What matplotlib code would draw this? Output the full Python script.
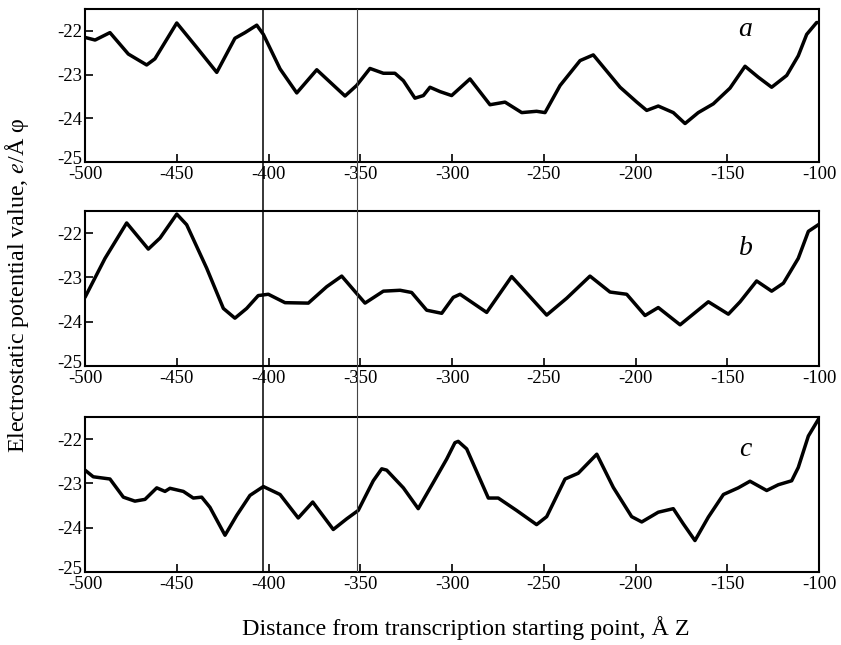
import matplotlib
matplotlib.use("Agg")
import matplotlib.pyplot as plt
from matplotlib.transforms import ScaledTranslation

plt.rcParams['font.family'] = ['Liberation Serif', 'DejaVu Serif']
plt.rcParams['mathtext.fontset'] = 'stix'
plt.rcParams['axes.unicode_minus'] = False

# --- data ---
x_a = [-500, -494.5, -486.4, -476.4, -466.4, -461.9, -450, -439.1, -428.2, -418.3,
       -412.8, -406.4, -402.8, -393.7, -384.6, -373.7, -358.3, -352, -344.7, -337.4,
       -331.1, -326.5, -320.2, -315.6, -312, -306.5, -300.2, -290.2, -279.3, -271.1,
       -262, -253.9, -249.3, -241.1, -230.2, -223, -208.4, -199.3, -193.9, -187.6,
       -179.4, -173, -165.8, -157.6, -148.5, -140.3, -133.1, -125.8, -117.6, -111.3,
       -106.7, -101.3, -100]
y_a = [-22.15, -22.21, -22.04, -22.53, -22.78, -22.64, -21.82, -22.38, -22.95, -22.17,
       -22.04, -21.87, -22.08, -22.87, -23.42, -22.89, -23.49, -23.25, -22.86, -22.97,
       -22.97, -23.14, -23.54, -23.48, -23.29, -23.39, -23.48, -23.10, -23.69, -23.63,
       -23.87, -23.84, -23.87, -23.25, -22.68, -22.55, -23.29, -23.63, -23.82, -23.72,
       -23.87, -24.12, -23.87, -23.67, -23.31, -22.81, -23.06, -23.29, -23.02, -22.57,
       -22.08, -21.81, -21.81]

x_b = [-500, -489.1, -477.3, -465.5, -459.1, -450, -444.6, -433.7, -424.6, -418.3,
       -411.9, -405.6, -400.1, -391, -378.3, -368.3, -360.1, -352, -347.4, -337.4,
       -328.3, -322, -313.8, -305.6, -299.3, -295.6, -281.1, -267.5, -248.4, -237.5,
       -224.8, -213.9, -204.8, -194.8, -187.6, -175.7, -160.3, -149.4, -143, -134,
       -125.8, -119.4, -111.3, -105.8, -100]
y_b = [-23.45, -22.57, -21.77, -22.36, -22.11, -21.57, -21.81, -22.79, -23.70, -23.92,
       -23.70, -23.41, -23.38, -23.57, -23.58, -23.21, -22.97, -23.36, -23.58, -23.31,
       -23.29, -23.34, -23.74, -23.81, -23.45, -23.38, -23.79, -22.98, -23.85, -23.47,
       -22.97, -23.33, -23.38, -23.86, -23.68, -24.07, -23.55, -23.83, -23.55, -23.08,
       -23.31, -23.13, -22.57, -21.96, -21.80]

x_c = [-500, -495.5, -486.4, -479.1, -472.8, -467.3, -460.9, -456.4, -453.7, -446.4,
       -441, -436.4, -431.9, -423.7, -417.3, -410.1, -402.8, -393.7, -383.8, -375.9,
       -364.7, -357.4, -351.1, -342.9, -338.3, -335.6, -326.5, -318.4, -310.2, -302.9,
       -298.4, -296.6, -292, -280.2, -274.8, -264.8, -253.9, -248.4, -238.4, -231.2,
       -221.1, -212.1, -202.1, -196.6, -187.6, -179.4, -174, -167.6, -160.3, -152.1,
       -144, -137.6, -128.5, -122.2, -114.9, -111.3, -105.8, -100]
y_c = [-22.70, -22.85, -22.90, -23.31, -23.40, -23.36, -23.10, -23.18, -23.11, -23.18,
       -23.33, -23.31, -23.54, -24.17, -23.72, -23.27, -23.07, -23.25, -23.78, -23.42,
       -24.04, -23.80, -23.61, -22.94, -22.67, -22.70, -23.10, -23.57, -22.98, -22.45,
       -22.08, -22.05, -22.22, -23.33, -23.33, -23.61, -23.93, -23.75, -22.90, -22.77,
       -22.34, -23.09, -23.75, -23.87, -23.65, -23.57, -23.91, -24.29, -23.76, -23.25,
       -23.10, -22.95, -23.16, -23.03, -22.94, -22.64, -21.93, -21.53]

panels = [(x_a, y_a, 'a', -22.11), (x_b, y_b, 'b', -22.49), (x_c, y_c, 'c', -22.38)]
marker_x = [-403, -352]
xticks = [-500, -450, -400, -350, -300, -250, -200, -150, -100]
yticks = [-25, -24, -23, -22]

fig = plt.figure(figsize=(8.41, 6.45), dpi=100)

left, width = 85 / 841, 734 / 841
boxes = [(9, 162), (211, 366), (417, 572)]  # top/bottom in pixels

for (xs, ys, lab, ly), (top, bot) in zip(panels, boxes):
    ax = fig.add_axes([left, 1 - bot / 645, width, (bot - top) / 645])
    ax.plot(xs, ys, color='black', lw=2.5, solid_capstyle='round',
            solid_joinstyle='round')
    ax.set_xlim(-500, -100)
    ax.set_ylim(-25, -21.5)
    ax.set_xticks(xticks)
    ax.set_yticks(yticks)
    ax.tick_params(direction='in', length=6, width=1.2, labelsize=13.5, pad=2)
    ax.tick_params(axis='x', pad=3)
    for s in ax.spines.values():
        s.set_linewidth(1.5)
    # nudge the lowest y label up a little, as in the reference
    ylabs = ax.get_yticklabels()
    ylabs[0].set_transform(ylabs[0].get_transform() +
                           ScaledTranslation(0, 3 / 72, fig.dpi_scale_trans))
    ax.text(-140, ly, lab, style='italic', fontsize=20, ha='center', va='baseline')

# vertical marker lines across all three panels
top_px, bot_px = boxes[0][0], boxes[2][1]
over = fig.add_axes([left, 1 - bot_px / 645, width, (bot_px - top_px) / 645])
over.set_xlim(-500, -100)
over.set_ylim(0, 1)
over.axis('off')
over.axvline(marker_x[0], color='black', lw=1.1)
over.axvline(marker_x[1], color='#444444', lw=0.8)

fig.text(17 / 841, 1 - 285 / 645, 'Electrostatic potential value, $\\mathit{e}$/Å φ',
         rotation=90, ha='center', va='center', fontsize=17.3)
fig.text(466 / 841, 1 - 628 / 645, 'Distance from transcription starting point, Å Z',
         ha='center', va='center', fontsize=17.3)

fig.savefig('out.png', dpi=100)
